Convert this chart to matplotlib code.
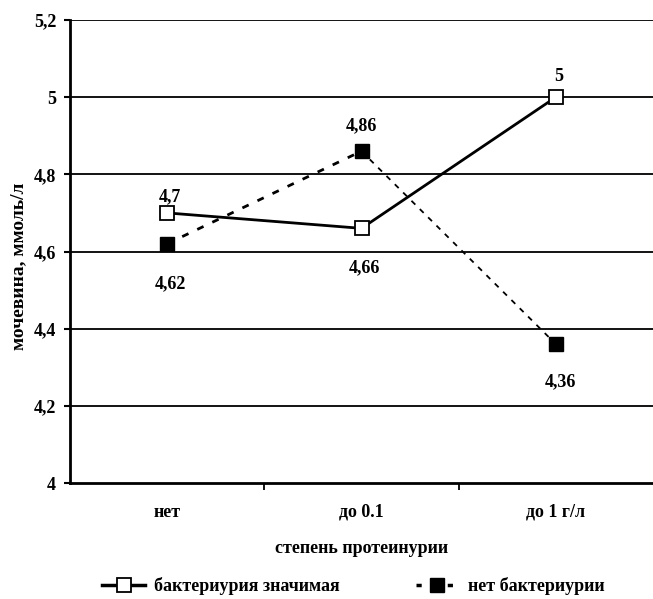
import matplotlib
matplotlib.use("Agg")
import matplotlib.pyplot as plt
from matplotlib.lines import Line2D

plt.rcParams['font.family'] = ['Liberation Serif', 'DejaVu Serif']
plt.rcParams['font.weight'] = 'bold'

categories = ["нет", "до 0.1", "до 1 г/л"]
series_names = ["бактериурия значимая", "нет бактериурии"]
bact_yes = [4.7, 4.66, 5.0]
bact_no = [4.62, 4.86, 4.36]
y_ticks = [4.0, 4.2, 4.4, 4.6, 4.8, 5.0, 5.2]
y_tick_labels = ["4", "4,2", "4,4", "4,6", "4,8", "5", "5,2"]
label_yes = ["4,7", "4,66", "5"]
label_no = ["4,62", "4,86", "4,36"]

fig = plt.figure(figsize=(6.53, 5.99), dpi=100)
ax = fig.add_axes([70/653, 116/599, 583/653, 463/599])

x = list(range(len(categories)))

for yt in y_ticks[1:]:
    ax.axhline(yt, color='black', lw=1.3, zorder=1)

ax.plot(x, bact_yes, color='black', lw=2.0, marker='s', ms=9.5,
        mfc='white', mec='black', mew=1.3, zorder=4)
ax.plot(x[:2], bact_no[:2], color='black', lw=2.0, ls=(0, (2.5, 3.5)), zorder=3)
ax.plot(x[1:], bact_no[1:], color='black', lw=1.3, ls=(0, (3, 3.5)), zorder=3)
ax.plot(x, bact_no, ls='none', marker='s', ms=9.5, mfc='black', mec='black', zorder=5)

fs = 13
offs_yes = [(2, 12), (2, -28), (2, 15)]
offs_no = [(2, -29), (0, 18), (3, -27)]
for i in x:
    ax.annotate(label_yes[i], (x[i], bact_yes[i]), xytext=offs_yes[i], textcoords='offset points',
                ha='center', va='center', fontsize=fs, fontweight='bold')
    ax.annotate(label_no[i], (x[i], bact_no[i]), xytext=offs_no[i], textcoords='offset points',
                ha='center', va='center', fontsize=fs, fontweight='bold')

ax.set_xlim(-0.5, 2.5)
ax.set_ylim(4.0, 5.2)
ax.set_yticks(y_ticks)
ax.set_yticklabels(y_tick_labels, fontsize=fs, fontweight='bold')
ax.set_xticks(x)
ax.set_xticklabels(categories, fontsize=fs, fontweight='bold')
ax.set_xticks([0.5, 1.5], minor=True)
ax.tick_params(axis='x', which='major', length=0, pad=15)
ax.tick_params(axis='x', which='minor', length=5, width=1.3, direction='out')
ax.tick_params(axis='y', length=4, width=1.5, direction='out', pad=6)

for s in ['top', 'right']:
    ax.spines[s].set_visible(False)
for s in ['left', 'bottom']:
    ax.spines[s].set_linewidth(2.0)

ax.set_xlabel("степень протеинурии", fontsize=fs, fontweight='bold', labelpad=14)
ax.set_ylabel("мочевина, ммоль/л", fontsize=14, fontweight='bold')
ax.yaxis.set_label_coords(-0.074, 0.469)

h1 = Line2D([], [], color='black', lw=2.5, marker='s', ms=9.5, mfc='white', mec='black', mew=1.3)
h2 = Line2D([], [], color='black', lw=2.5, ls=(0, (1.5, 3)), marker='s', ms=9.5, mfc='black', mec='black')
fig.legend([h1, h2], series_names, loc='center', bbox_to_anchor=(0.541, 13/599), ncol=2,
           frameon=False, prop={'weight': 'bold', 'size': fs},
           handlelength=2.4, handletextpad=0.5, columnspacing=4.2)

fig.savefig("out.png", dpi=100)
